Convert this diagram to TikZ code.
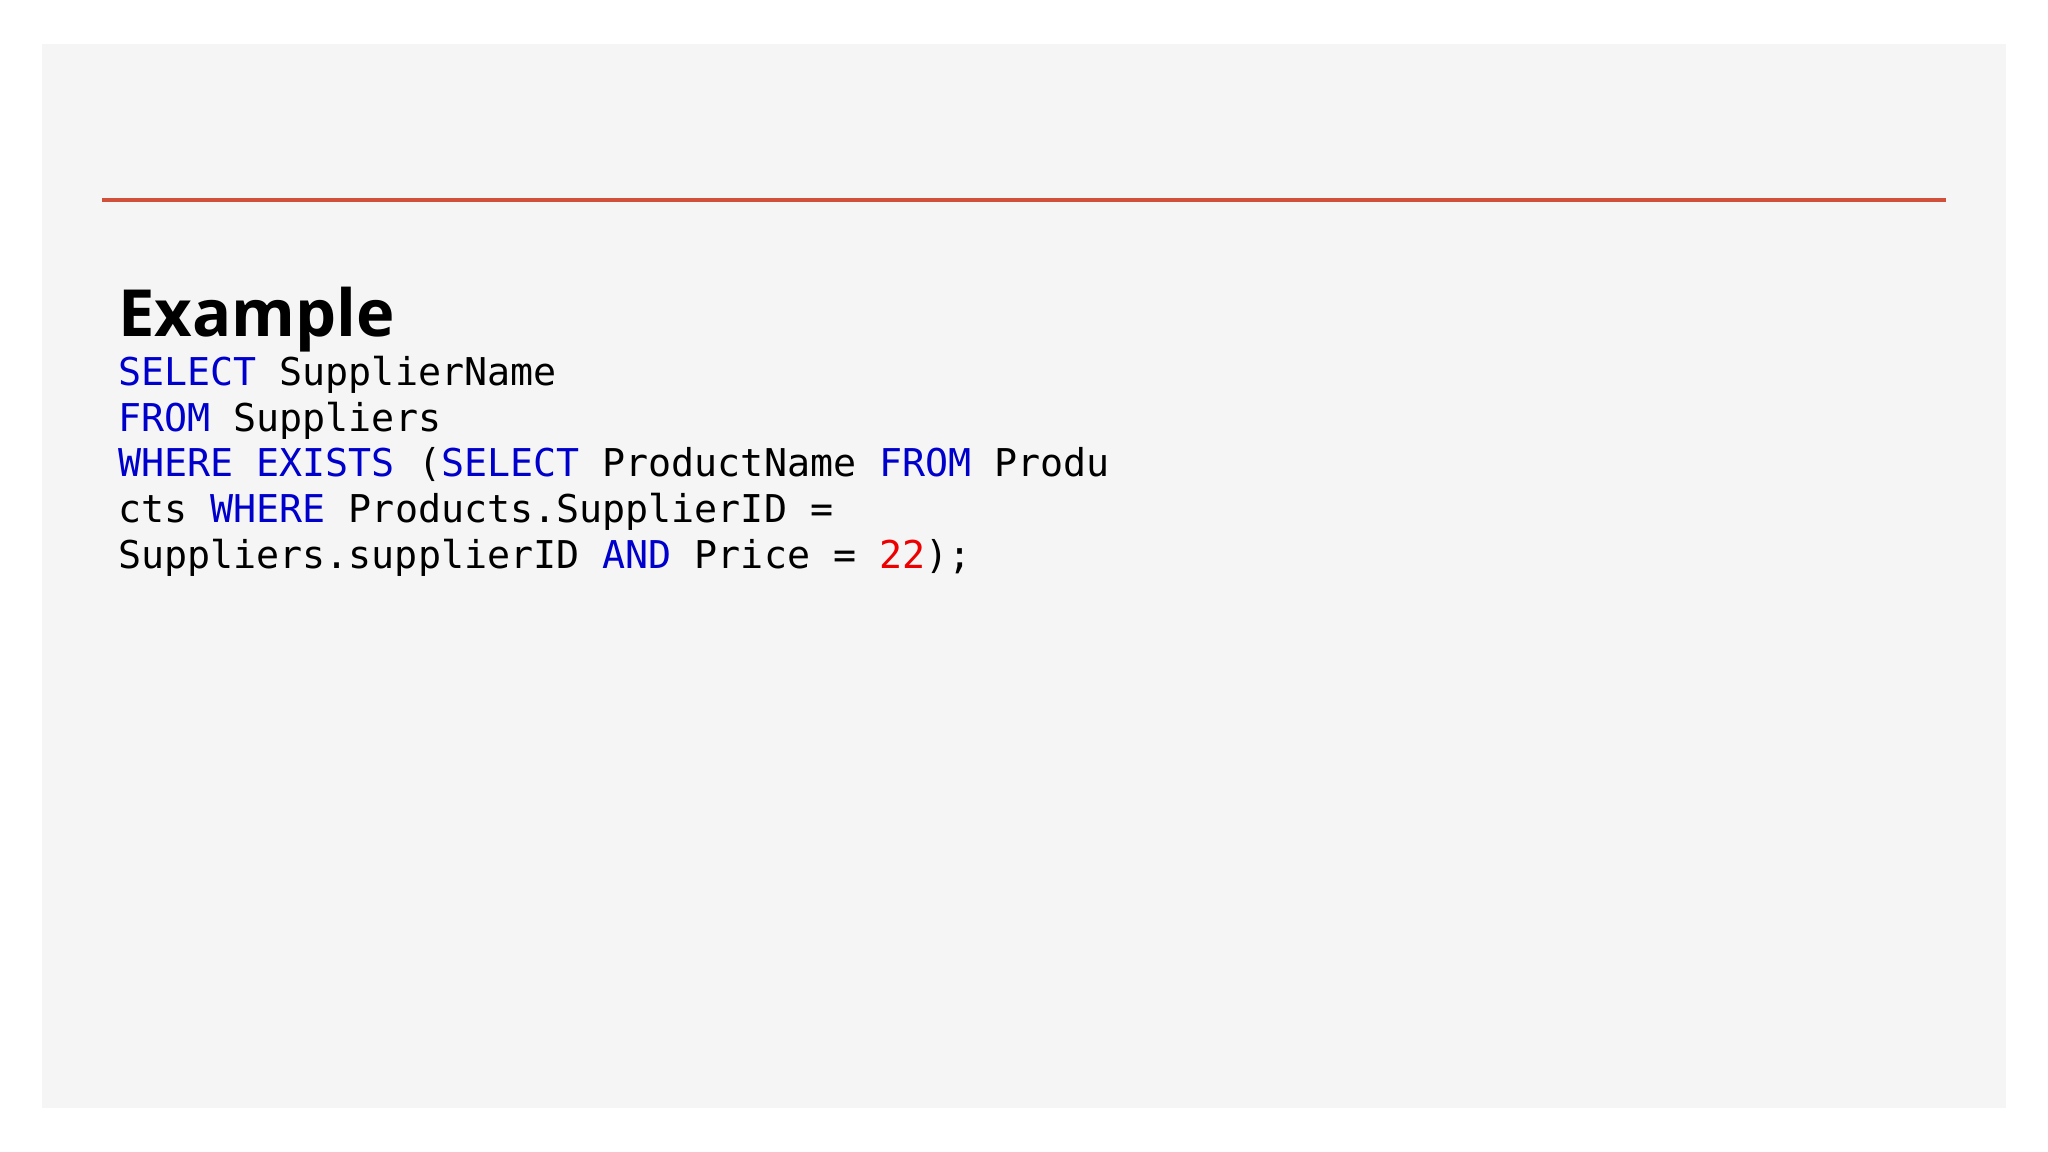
\documentclass[tikz,border=0pt]{standalone}
\usepackage{fontspec}
\setmainfont{Open Sans}
\setmonofont{DejaVu Sans Mono}
\definecolor{panel}{HTML}{F5F5F5}
\definecolor{rule}{HTML}{D0503C}
\definecolor{kw}{HTML}{0000CD}
\definecolor{num}{HTML}{EE0000}
\tikzset{codeline/.style={anchor=base west,inner sep=0pt,font=\fontsize{10.9pt}{13pt}\ttfamily}}
\newcommand{\kwd}[1]{\textcolor{kw}{#1}}
\begin{document}
\begin{tikzpicture}[x=0.013061cm,y=-0.013061cm]
\useasboundingbox (0,0) rectangle (1568,882);
\fill[white] (0,0) rectangle (1568,882);
\fill[panel] (32,34) rectangle (1536,848);
\draw[rule,line width=0.04cm] (78,153) -- (1490,153);
\node[anchor=base west,inner sep=0pt,font=\fontsize{18.5pt}{22pt}\bfseries] (title) at (90,258) {Example};
\node[codeline] (l1) at (90,295) {\kwd{SELECT} SupplierName};
\node[codeline] (l2) at (90,330) {\kwd{FROM} Suppliers};
\node[codeline] (l3) at (90,365) {\kwd{WHERE} \kwd{EXISTS} (\kwd{SELECT} ProductName \kwd{FROM} Produ};
\node[codeline] (l4) at (90,400) {cts \kwd{WHERE} Products.SupplierID =};
\node[codeline] (l5) at (90,435) {Suppliers.supplierID \kwd{AND} Price = \textcolor{num}{22});};
\end{tikzpicture}
\end{document}
